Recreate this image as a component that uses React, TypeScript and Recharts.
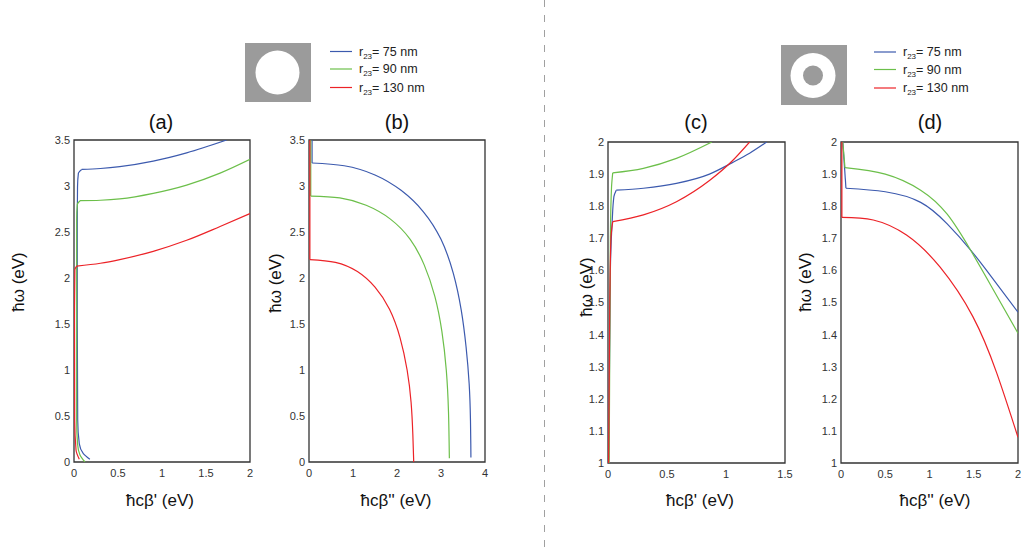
import React from 'react';
import { LineChart, Line, XAxis, YAxis, ReferenceArea } from 'recharts';

const BLUE = '#3c5aae';
const GREEN = '#6cbf4a';
const RED = '#ec2227';
const FONT = '"Liberation Sans", Arial, sans-serif';

const seriesNames = ['75 nm', '90 nm', '130 nm'];

// Each curve is kept as two pieces: the steep rise near β = 0 and the branch after the knee.

// panel (a): ħω vs ħcβ' (solid disk)
const a75Rise = [
  [0.18, 0.03], [0.106, 0.09], [0.06, 0.2], [0.042, 0.46], [0.037, 1.54], [0.037, 2.63],
  [0.04, 2.99], [0.05, 3.14], [0.087, 3.18],
];
const a75Branch = [[0.087, 3.18], [0.3, 3.19], [0.52, 3.21], [0.9, 3.27], [1.28, 3.36], [1.735, 3.5]];
const a90Rise = [
  [0.125, 0.0], [0.068, 0.076], [0.04, 0.2], [0.03, 0.46], [0.03, 2.63], [0.038, 2.8],
  [0.068, 2.84],
];
const a90Branch = [[0.068, 2.84], [0.3, 2.845], [0.52, 2.86], [0.9, 2.92], [1.28, 3.01], [1.66, 3.14], [2.0, 3.29]];
const a130Rise = [[0.06, 0.03], [0.023, 0.13], [0.008, 0.46], [0.006, 1.54], [0.01, 2.09], [0.03, 2.13]];
const a130Branch = [[0.03, 2.13], [0.3, 2.16], [0.52, 2.2], [0.9, 2.29], [1.28, 2.41], [1.66, 2.56], [2.0, 2.7]];

// panel (b): ħω vs ħcβ''
const b75Rise = [[0.07, 3.5], [0.07, 3.25]];
const b75Branch = [
  [0.07, 3.25], [0.8, 3.22], [1.5, 3.12], [2.1, 2.95], [2.6, 2.72], [3.0, 2.42],
  [3.28, 2.05], [3.46, 1.65], [3.57, 1.25], [3.64, 0.85], [3.67, 0.45], [3.68, 0.05],
];
const b90Rise = [[0.04, 3.5], [0.04, 2.89]];
const b90Branch = [
  [0.04, 2.89], [0.7, 2.87], [1.3, 2.79], [1.85, 2.64], [2.3, 2.42], [2.62, 2.14],
  [2.86, 1.8], [3.02, 1.42], [3.12, 1.0], [3.17, 0.55], [3.19, 0.04],
];
const b130Rise = [[0.02, 3.5], [0.02, 2.2]];
const b130Branch = [
  [0.02, 2.2], [0.6, 2.17], [1.1, 2.07], [1.5, 1.9], [1.83, 1.66], [2.07, 1.35],
  [2.23, 1.0], [2.32, 0.65], [2.36, 0.3], [2.38, 0.0],
];

// panel (c): ħω vs ħcβ' (ring)
const c75Rise = [[0.005, 1.0], [0.02, 1.6], [0.035, 1.75], [0.05, 1.83], [0.07, 1.85]];
const c75Branch = [[0.07, 1.85], [0.3, 1.856], [0.58, 1.871], [0.86, 1.9], [1.05, 1.935], [1.2, 1.965], [1.345, 2.0]];
const c90Rise = [[0.01, 1.0], [0.02, 1.7], [0.03, 1.86], [0.04, 1.904]];
const c90Branch = [[0.04, 1.904], [0.3, 1.918], [0.58, 1.949], [0.88, 2.0]];
const c130Rise = [[0.005, 1.0], [0.015, 1.5], [0.025, 1.7], [0.04, 1.752]];
const c130Branch = [[0.04, 1.752], [0.3, 1.773], [0.58, 1.814], [0.86, 1.88], [1.05, 1.94], [1.2, 2.0]];

// panel (d): ħω vs ħcβ'' (ring)
const d75Rise = [[0.02, 2.0], [0.056, 1.856]];
const d75Branch = [
  [0.056, 1.856], [0.5, 1.845], [0.9, 1.812], [1.2, 1.745], [1.46, 1.665], [1.7, 1.58], [2.0, 1.47],
];
const d90Rise = [[0.02, 2.0], [0.045, 1.92]];
const d90Branch = [
  [0.045, 1.92], [0.5, 1.9], [0.9, 1.85], [1.2, 1.775], [1.46, 1.665], [1.7, 1.55], [2.0, 1.404],
];
const d130Rise = [[0.01, 2.0], [0.01, 1.765]];
const d130Branch = [
  [0.01, 1.765], [0.365, 1.757], [0.74, 1.71], [1.12, 1.61], [1.49, 1.456], [1.76, 1.28],
  [2.0, 1.08],
];

const ticksA_x = [0, 0.5, 1, 1.5, 2];
const ticksB_x = [0, 1, 2, 3, 4];
const ticksC_x = [0, 0.5, 1, 1.5];
const ticksD_x = [0, 0.5, 1, 1.5, 2];
const ticksAB_y = [0, 0.5, 1, 1.5, 2, 2.5, 3, 3.5];
const ticksCD_y = [1, 1.1, 1.2, 1.3, 1.4, 1.5, 1.6, 1.7, 1.8, 1.9, 2];

const toPts = (arr: number[][]) => arr.map(([x, y]) => ({ x, y }));

type CurveType = 'linear' | 'natural' | 'monotoneX' | 'monotoneY';

interface PanelProps {
  left: number;
  top: number;
  boxW: number;
  boxH: number;
  xDomain: [number, number];
  yDomain: [number, number];
  xTicks: number[];
  yTicks: number[];
  rises: number[][][];
  branches: number[][][];
  riseType: CurveType;
  branchType: CurveType;
}

const AXIS_W = 40;
const M_TOP = 10;
const M_RIGHT = 14;
const X_H = 25;

function Panel({
  left, top, boxW, boxH, xDomain, yDomain, xTicks, yTicks, rises, branches, riseType, branchType,
}: PanelProps) {
  const colors = [BLUE, GREEN, RED];
  return (
    <div style={{ position: 'absolute', left: left - AXIS_W, top: top - M_TOP }}>
      <LineChart
        width={AXIS_W + boxW + M_RIGHT}
        height={M_TOP + boxH + X_H}
        margin={{ top: M_TOP, right: M_RIGHT, bottom: 0, left: 0 }}
      >
        <XAxis
          type="number"
          dataKey="x"
          domain={xDomain}
          ticks={xTicks}
          allowDataOverflow
          axisLine={false}
          tickLine={false}
          tickSize={3}
          tickMargin={4}
          height={X_H}
          interval={0}
          tick={{ fill: '#333', fontSize: 11, fontFamily: FONT }}
        />
        <YAxis
          type="number"
          dataKey="y"
          domain={yDomain}
          ticks={yTicks}
          allowDataOverflow
          axisLine={false}
          tickLine={false}
          tickSize={2}
          tickMargin={2}
          width={AXIS_W}
          interval={0}
          tick={{ fill: '#333', fontSize: 11, fontFamily: FONT }}
        />
        <ReferenceArea
          x1={xDomain[0]}
          x2={xDomain[1]}
          y1={yDomain[0]}
          y2={yDomain[1]}
          fill="#fff"
          fillOpacity={0}
          stroke="#333"
          strokeWidth={1.3}
        />
        {rises.map((s, i) => (
          <Line
            key={`rise-${seriesNames[i]}`}
            name={seriesNames[i]}
            data={toPts(s)}
            dataKey="y"
            type={riseType}
            stroke={colors[i]}
            strokeWidth={1.2}
            dot={false}
            isAnimationActive={false}
          />
        ))}
        {branches.map((s, i) => (
          <Line
            key={`branch-${seriesNames[i]}`}
            name={seriesNames[i]}
            data={toPts(s)}
            dataKey="y"
            type={branchType}
            stroke={colors[i]}
            strokeWidth={1.2}
            dot={false}
            isAnimationActive={false}
          />
        ))}
      </LineChart>
    </div>
  );
}

function LegendRows({ x, y }: { x: number; y: number }) {
  const colors = [BLUE, GREEN, RED];
  const rowY = [0, 17.5, 36];
  return (
    <g>
      {seriesNames.map((n, i) => (
        <g key={n}>
          <line x1={x} x2={x + 22} y1={y + rowY[i]} y2={y + rowY[i]} stroke={colors[i]} strokeWidth={1.2} />
          <text x={x + 29} y={y + rowY[i] + 4} fontSize={12.5} fontFamily={FONT} fill="#222">
            r<tspan fontSize={8} dy={3}>23</tspan>
            <tspan dy={-3}>= {n}</tspan>
          </text>
        </g>
      ))}
    </g>
  );
}

export default function App() {
  const titleStyle = { fontFamily: FONT, fill: '#111' };
  return (
    <div style={{ position: 'absolute', left: 0, top: 0, width: 1021, height: 554, background: '#fff' }}>
      <Panel left={74} top={140} boxW={176} boxH={322} xDomain={[0, 2]} yDomain={[0, 3.5]}
        xTicks={ticksA_x} yTicks={ticksAB_y} rises={[a75Rise, a90Rise, a130Rise]}
        branches={[a75Branch, a90Branch, a130Branch]} riseType="monotoneY" branchType="monotoneX" />
      <Panel left={309} top={140} boxW={176} boxH={322} xDomain={[0, 4]} yDomain={[0, 3.5]}
        xTicks={ticksB_x} yTicks={ticksAB_y} rises={[b75Rise, b90Rise, b130Rise]}
        branches={[b75Branch, b90Branch, b130Branch]} riseType="linear" branchType="natural" />
      <Panel left={608} top={142} boxW={177} boxH={321} xDomain={[0, 1.5]} yDomain={[1, 2]}
        xTicks={ticksC_x} yTicks={ticksCD_y} rises={[c75Rise, c90Rise, c130Rise]}
        branches={[c75Branch, c90Branch, c130Branch]} riseType="monotoneY" branchType="monotoneX" />
      <Panel left={841} top={142} boxW={177} boxH={321} xDomain={[0, 2]} yDomain={[1, 2]}
        xTicks={ticksD_x} yTicks={ticksCD_y} rises={[d75Rise, d90Rise, d130Rise]}
        branches={[d75Branch, d90Branch, d130Branch]} riseType="linear" branchType="natural" />

      <svg width={1021} height={554} style={{ position: 'absolute', left: 0, top: 0, pointerEvents: 'none' }}>
        <line x1={544.5} x2={544.5} y1={0} y2={554} stroke="#a0a0a0" strokeWidth={1} strokeDasharray="7 8" />

        {/* cross-section icons */}
        <rect x={245} y={43} width={66} height={59} fill="#9b9b9b" />
        <circle cx={277.5} cy={72.5} r={22} fill="#fff" />
        <rect x={781} y={45} width={66} height={60} fill="#9b9b9b" />
        <circle cx={813} cy={75.5} r={22.5} fill="#fff" />
        <circle cx={813} cy={75.5} r={10} fill="#9b9b9b" />

        <LegendRows x={330} y={51.5} />
        <LegendRows x={874} y={52} />

        {/* panel titles */}
        {[['(a)', 161], ['(b)', 397], ['(c)', 696], ['(d)', 930]].map(([t, cx]) => (
          <text key={t as string} x={cx as number} y={129} fontSize={20} textAnchor="middle" {...titleStyle}>{t}</text>
        ))}

        {/* y axis titles */}
        {[[18, 282], [275, 283], [586, 287], [805, 282]].map(([cx, cy], i) => (
          <text key={i} x={cx} y={cy} fontSize={17} textAnchor="middle" dominantBaseline="central"
            transform={`rotate(-90 ${cx} ${cy})`} {...titleStyle}>ħω (eV)</text>
        ))}

        {/* x axis titles */}
        {[["ħcβ' (eV)", 160], ["ħcβ'' (eV)", 396], ["ħcβ' (eV)", 700], ["ħcβ'' (eV)", 935]].map(([t, cx], i) => (
          <text key={i} x={cx as number} y={506} fontSize={17} textAnchor="middle" {...titleStyle}>{t}</text>
        ))}
      </svg>
    </div>
  );
}
